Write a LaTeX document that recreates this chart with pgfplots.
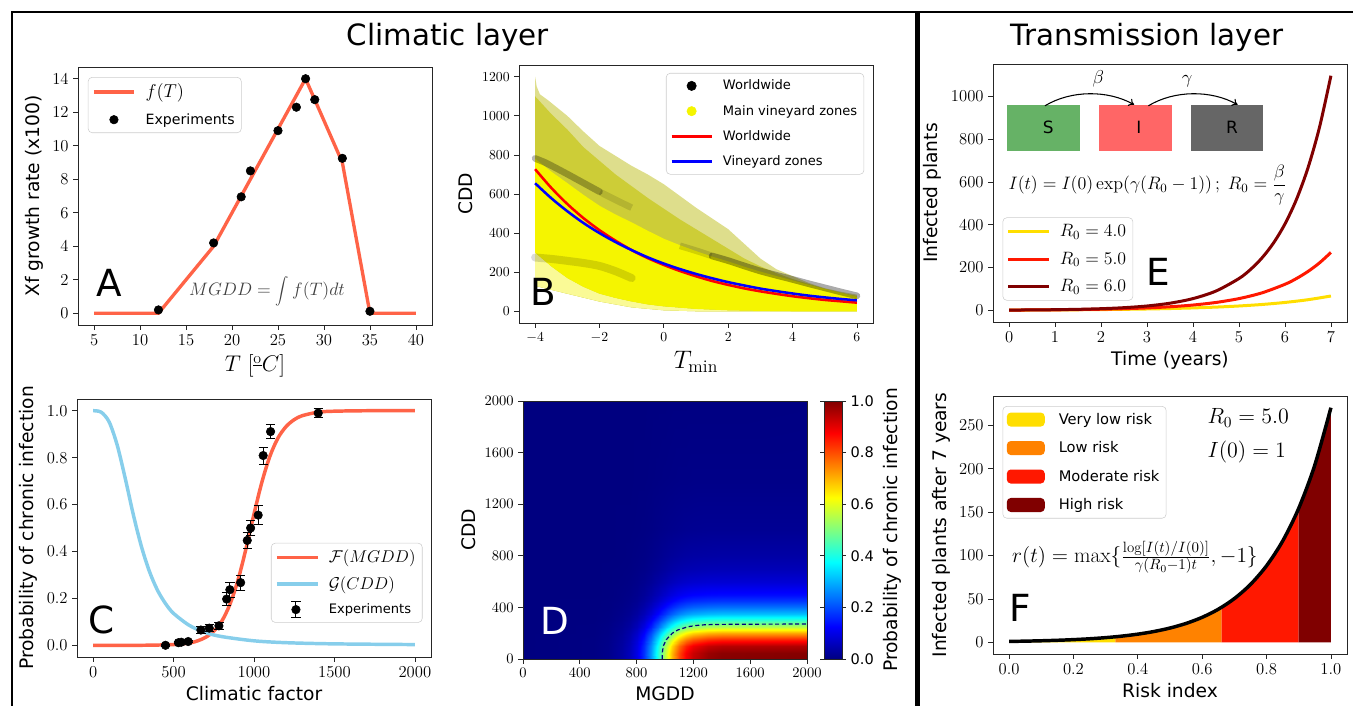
\RequirePackage{fix-cm}
\documentclass[border=0pt]{standalone}
\usepackage{fontspec}
\setsansfont{DejaVu Sans}
\usepackage{pgfplots}
\pgfplotsset{compat=1.18}
\usetikzlibrary{arrows.meta}

\definecolor{tomatoc}{RGB}{255,99,71}
\definecolor{skyc}{RGB}{135,206,235}
\definecolor{goldc}{RGB}{255,222,0}
\definecolor{orangec}{RGB}{255,130,0}
\definecolor{redc}{RGB}{255,24,0}
\definecolor{maroonc}{RGB}{128,0,0}
\definecolor{boxS}{RGB}{102,178,102}
\definecolor{boxI}{RGB}{255,102,102}
\definecolor{boxR}{RGB}{102,102,102}
\definecolor{olivelt}{RGB}{222,222,140}
\definecolor{olivedk}{RGB}{205,205,55}
\definecolor{yel}{RGB}{245,245,0}
\definecolor{paleyel}{RGB}{250,250,150}

\newcommand{\fs}[1]{\fontsize{#1}{#1}\selectfont}

\pgfplotsset{
  panel/.style={
    scale only axis, width=265.5pt, height=193.5pt,
    axis line style={black!85, line width=0.7pt},
    every tick/.style={black!85, line width=0.6pt},
    tick align=outside, major tick length=3.5pt,
    xtick pos=bottom, ytick pos=left,
    tick label style={font=\fs{12.5}, /pgf/number format/1000 sep={}},
    label style={font=\sffamily\fs{14}},
    legend style={draw=black!20, rounded corners=3pt, fill=white,
      inner xsep=3pt, inner ysep=3pt, cells={anchor=west}},
    legend image code/.code={\draw[mark repeat=2,mark phase=2,##1] plot coordinates {(0cm,0cm) (0.53cm,0cm) (1.06cm,0cm)}; \path (1.25cm,0cm);},
  },
}

\begin{document}
\begin{tikzpicture}[x=0.75pt, y=-0.75pt]
\useasboundingbox (0,0) rectangle (1353,706);
\draw[line width=2.2pt] (12,706) -- (12,12) -- (916,12) -- (916,706);
\draw[line width=1.8pt] (918.5,706) -- (918.5,12) -- (1353,12);
\node[font=\sffamily\fs{22}] at (448,37) {Climatic layer};
\node[font=\sffamily\fs{22}] at (1147,37) {Transmission layer};

% ---------------- A
\begin{axis}[panel, at={(58.5pt,-243.75pt)}, anchor=south west,
  xmin=3.25, xmax=41.75, ymin=-0.7, ymax=14.7,
  xtick={5,10,...,40}, ytick={0,2,...,14},
  xlabel={$T\ [^{\underline{\mathrm{o}}}C]$}, xlabel style={font=\fs{17}},
  ylabel={Xf growth rate (x100)},
  legend style={at={(0.028,0.961)}, anchor=north west, font=\sffamily\fs{10.6}, row sep=6pt}]
\addplot[tomatoc, line width=2.5pt] coordinates {(5,0) (12,0) (18,4) (28,14) (32,9) (35,0) (40,0)};
\addplot[only marks, mark=*, mark size=3.2pt, black] coordinates {(12,0.2) (18,4.2) (21,6.95) (22,8.5) (25,10.9) (27,12.3) (28,14) (29,12.75) (32,9.25) (35,0.12)};
\legend{{\fs{14}$f(T)$}, Experiments}
\node[font=\sffamily\fs{28}] at (axis cs:6.7,1.8) {A};
\node[font=\fs{13.5}, text=black!75] at (axis cs:23.8,1.3) {$MGDD=\displaystyle\int f(T)dt$};
\end{axis}

% ---------------- B
\begin{axis}[panel, at={(389.25pt,-242.25pt)}, anchor=south west,
  xmin=-4.5, xmax=6.5, ymin=-60, ymax=1260,
  xtick={-4,-2,0,2,4,6}, ytick={0,200,...,1200},
  tick label style={font=\fs{10.3}},
  xlabel={$T_{\min}$}, xlabel style={font=\fs{19}},
  ylabel={CDD},
  legend style={at={(0.975,0.969)}, anchor=north east, font=\sffamily\fs{9.8}, row sep=6pt}]
% sparse outer fringe of the point cloud
\addplot[draw=none, fill=olivelt, forget plot] coordinates {(-4,1200) (-3.95,1150) (-3.85,1110) (-3.6,1080) (-3.3,1040) (-3,1000) (-2.5,920) (-2,846) (-1.5,795) (-1,744) (-0.5,700) (0,650) (0.5,590) (1,530) (1.5,475) (2,420) (2.5,345) (3,270) (3.5,215) (4,180) (4.5,145) (5,118) (5.5,100) (6,85) (6,0) (1,0) (0,5) (-1,20) (-2,50) (-3,90) (-3.5,110) (-4,130)} -- cycle;
\addplot[draw=none, fill=olivedk, forget plot] coordinates {(-4,1100) (-3.5,1010) (-3,930) (-2.5,840) (-2,770) (-1.5,700) (-1,640) (-0.5,580) (0,525) (0.5,470) (1,420) (1.5,370) (2,320) (2.5,270) (3,230) (3.5,195) (4,165) (4.5,140) (5,115) (5.5,95) (6,78) (6,0) (1,0) (0,5) (-1,20) (-2,50) (-3,90) (-3.5,110) (-4,130)} -- cycle;
\addplot[draw=none, fill=paleyel, forget plot] coordinates {(-4,300) (-3.5,230) (-3,170) (-2.5,125) (-2,90) (-1.5,68) (-1,50) (-0.5,35) (0,25) (1,12) (2,5) (3,2) (4,0) (1,0) (0,5) (-1,20) (-2,50) (-3,90) (-3.5,110) (-4,130)} -- cycle;
% dense core of the point cloud
\addplot[draw=none, fill=yel, forget plot] coordinates {(-4,780) (-3.5,715) (-3,656) (-2.5,596) (-2,540) (-1.5,495) (-1,455) (-0.5,412) (0,371) (0.5,338) (1,308) (1.5,280) (2,255) (2.5,228) (3,203) (3.5,180) (4,158) (4.5,136) (5,115) (5.5,95) (6,75) (6,0) (4,0) (3,2) (2,5) (1,12) (0,25) (-0.5,35) (-1,50) (-1.5,68) (-2,90) (-2.5,125) (-3,170) (-3.5,230) (-4,300)} -- cycle;
% darker streaks of black points
\addplot[black, opacity=0.28, line width=5pt, line cap=round, smooth, forget plot] coordinates {(-4,782) (-3.7,762) (-3.4,737) (-3,702) (-2.5,657) (-2,612)};
\addplot[black, opacity=0.12, line width=5pt, line cap=butt, smooth, forget plot] coordinates {(-1.98,610) (-1.5,570) (-1,530)};
\addplot[black, opacity=0.14, line width=6pt, line cap=round, smooth, forget plot] coordinates {(-4,275) (-3.5,268) (-3,258) (-2.5,247) (-2,232) (-1.5,205) (-1,170)};
\addplot[black, opacity=0.14, line width=5pt, line cap=butt, smooth, forget plot] coordinates {(0.5,335) (1,310) (1.48,284)};
\addplot[black, opacity=0.33, line width=5pt, line cap=round, smooth, forget plot] coordinates {(1.5,283) (2,259) (2.5,232) (3,206) (3.5,184) (4,163) (4.5,141) (5,120) (5.5,99) (6,79)};
\addlegendimage{only marks, mark=*, mark size=3.5pt, black}
\addlegendimage{only marks, mark=*, mark size=3.5pt, yel}
\addplot[red, line width=1.9pt, smooth] coordinates {(-4,727) (-3.5,632) (-3,549) (-2.5,477) (-2,415) (-1.5,361) (-1,313) (-0.5,272) (0,237) (0.5,206) (1,179) (1.5,155) (2,135) (2.5,117) (3,102) (3.5,89) (4,77) (4.5,67) (5,58) (5.5,51) (6,44)};
\addplot[blue, line width=1.9pt, smooth] coordinates {(-4,655) (-3.5,579) (-3,512) (-2.5,452) (-2,400) (-1.5,354) (-1,313) (-0.5,276) (0,244) (0.5,216) (1,191) (1.5,169) (2,149) (2.5,132) (3,116) (3.5,103) (4,91) (4.5,80) (5,71) (5.5,63) (6,56)};
\legend{Worldwide, Main vineyard zones, Worldwide, Vineyard zones}
\node[font=\sffamily\fs{28}] at (axis cs:-3.74,97) {B};
\end{axis}

% ---------------- C
\begin{axis}[panel, at={(57.75pt,-492.75pt)}, anchor=south west,
  xmin=-100, xmax=2100, ymin=-0.05, ymax=1.05,
  xtick={0,500,1000,1500,2000}, ytick={0,0.2,0.4,0.6,0.8,1.0},
  yticklabel style={/pgf/number format/.cd, fixed, fixed zerofill, precision=1},
  xlabel={Climatic factor}, ylabel={Probability of chronic infection},
  legend style={at={(0.976,0.133)}, anchor=south east, font=\sffamily\fs{9.8}, row sep=5pt}]
\addplot[tomatoc, line width=2.6pt, smooth] coordinates {(0,0) (300,0) (500,0.003) (600,0.010) (650,0.019) (700,0.034) (750,0.060) (800,0.103) (850,0.174) (900,0.277) (950,0.411) (1000,0.560) (1050,0.698) (1100,0.808) (1150,0.885) (1200,0.933) (1250,0.962) (1300,0.979) (1400,0.994) (1500,0.998) (1700,1) (2000,1)};
\addplot[skyc, line width=2.6pt, smooth] coordinates {(0,1) (50,0.994) (100,0.952) (150,0.853) (200,0.711) (250,0.557) (300,0.422) (350,0.315) (400,0.235) (450,0.178) (500,0.136) (600,0.084) (700,0.054) (800,0.037) (1000,0.019) (1200,0.011) (1500,0.006) (2000,0.003)};
\addplot[only marks, mark=*, mark size=3.2pt, black,
  error bars/.cd, y dir=both, y explicit, error mark options={black, line width=0.7pt, mark size=3.5pt, rotate=90},
  error bar style={line width=0.7pt},
  /pgfplots/legend image code/.code={
    \draw[black, line width=0.7pt] (0.5cm,-0.22cm) -- (0.5cm,0.22cm) (0.38cm,-0.22cm) -- (0.62cm,-0.22cm) (0.38cm,0.22cm) -- (0.62cm,0.22cm);
    \fill[black] (0.5cm,0cm) circle (3.2pt); \path (1.2cm,0cm);}]
  coordinates {(450,0.0) +- (0,0.003) (530,0.011) +- (0,0.005) (548,0.013) +- (0,0.005) (591,0.016) +- (0,0.005)
   (670,0.065) +- (0,0.016) (722,0.073) +- (0,0.016) (782,0.083) +- (0,0.016) (830,0.197) +- (0,0.029)
   (850,0.237) +- (0,0.032) (917,0.267) +- (0,0.032) (958,0.447) +- (0,0.036) (979,0.50) +- (0,0.032)
   (1026,0.555) +- (0,0.04) (1057,0.809) +- (0,0.036) (1103,0.911) +- (0,0.029) (1399,0.99) +- (0,0.018)};
\legend{{\fs{12.8}$\mathcal{F}(MGDD)$}, {\fs{12.8}$\mathcal{G}(CDD)$}, Experiments}
\node[font=\sffamily\fs{28}] at (axis cs:52,0.109) {C};
\end{axis}

% ---------------- D
\begin{axis}[panel, width=213pt, at={(392.25pt,-494.25pt)}, anchor=south west,
  xmin=0, xmax=2000, ymin=0, ymax=2000,
  xtick={0,400,...,2000}, ytick={0,400,...,2000},
  tick label style={font=\fs{10.9}},
  xlabel={MGDD}, ylabel={CDD}, axis on top,
  colormap/jet, point meta min=0, point meta max=1,
  colorbar, colorbar shift/.style={xshift=12.75pt},
  colorbar style={at={(parent axis.north east)}, anchor=north west,
    width=13.5pt, ytick={0,0.2,0.4,0.6,0.8,1},
    yticklabels={0.0,0.2,0.4,0.6,0.8,1.0},
    yticklabel style={font=\sffamily\fs{10.9}},
    ylabel={Probability of chronic infection}, ylabel style={font=\sffamily\fs{14}},
    tick align=outside, major tick length=3pt, axis line style={black!85}}]
\addplot[surf, shader=interp, mesh/cols=17, point meta=explicit]
 table[row sep=\\, meta index=2] {
 x y z \\
 0 0 0 \\ 500 0 0.003 \\ 600 0 0.010 \\ 700 0 0.034 \\ 750 0 0.060 \\ 800 0 0.103 \\ 850 0 0.174 \\ 900 0 0.277 \\ 950 0 0.411 \\ 1000 0 0.560 \\ 1050 0 0.698 \\ 1100 0 0.808 \\ 1150 0 0.885 \\ 1200 0 0.933 \\ 1300 0 0.979 \\ 1400 0 0.994 \\ 2000 0 1 \\
 0 50 0 \\ 500 50 0.003 \\ 600 50 0.010 \\ 700 50 0.034 \\ 750 50 0.060 \\ 800 50 0.102 \\ 850 50 0.173 \\ 900 50 0.275 \\ 950 50 0.409 \\ 1000 50 0.557 \\ 1050 50 0.694 \\ 1100 50 0.803 \\ 1150 50 0.880 \\ 1200 50 0.927 \\ 1300 50 0.973 \\ 1400 50 0.988 \\ 2000 50 0.994 \\
 0 100 0 \\ 500 100 0.003 \\ 600 100 0.010 \\ 700 100 0.032 \\ 750 100 0.057 \\ 800 100 0.098 \\ 850 100 0.166 \\ 900 100 0.264 \\ 950 100 0.391 \\ 1000 100 0.533 \\ 1050 100 0.664 \\ 1100 100 0.769 \\ 1150 100 0.843 \\ 1200 100 0.888 \\ 1300 100 0.932 \\ 1400 100 0.946 \\ 2000 100 0.952 \\
 0 150 0 \\ 500 150 0.003 \\ 600 150 0.009 \\ 700 150 0.029 \\ 750 150 0.051 \\ 800 150 0.088 \\ 850 150 0.148 \\ 900 150 0.236 \\ 950 150 0.351 \\ 1000 150 0.478 \\ 1050 150 0.595 \\ 1100 150 0.689 \\ 1150 150 0.755 \\ 1200 150 0.796 \\ 1300 150 0.835 \\ 1400 150 0.848 \\ 2000 150 0.853 \\
 0 200 0 \\ 500 200 0.002 \\ 600 200 0.007 \\ 700 200 0.024 \\ 750 200 0.043 \\ 800 200 0.073 \\ 850 200 0.124 \\ 900 200 0.197 \\ 950 200 0.292 \\ 1000 200 0.398 \\ 1050 200 0.496 \\ 1100 200 0.574 \\ 1150 200 0.629 \\ 1200 200 0.663 \\ 1300 200 0.696 \\ 1400 200 0.707 \\ 2000 200 0.711 \\
 0 250 0 \\ 500 250 0.002 \\ 600 250 0.006 \\ 700 250 0.019 \\ 750 250 0.033 \\ 800 250 0.057 \\ 850 250 0.097 \\ 900 250 0.154 \\ 950 250 0.229 \\ 1000 250 0.312 \\ 1050 250 0.389 \\ 1100 250 0.450 \\ 1150 250 0.493 \\ 1200 250 0.520 \\ 1300 250 0.545 \\ 1400 250 0.554 \\ 2000 250 0.557 \\
 0 300 0 \\ 500 300 0.001 \\ 600 300 0.004 \\ 700 300 0.014 \\ 750 300 0.025 \\ 800 300 0.043 \\ 850 300 0.073 \\ 900 300 0.117 \\ 950 300 0.173 \\ 1000 300 0.236 \\ 1050 300 0.295 \\ 1100 300 0.341 \\ 1150 300 0.373 \\ 1200 300 0.394 \\ 1300 300 0.413 \\ 1400 300 0.419 \\ 2000 300 0.422 \\
 0 350 0 \\ 500 350 0.001 \\ 600 350 0.003 \\ 700 350 0.011 \\ 750 350 0.019 \\ 800 350 0.032 \\ 850 350 0.055 \\ 900 350 0.087 \\ 950 350 0.129 \\ 1000 350 0.176 \\ 1050 350 0.220 \\ 1100 350 0.255 \\ 1150 350 0.279 \\ 1200 350 0.294 \\ 1300 350 0.308 \\ 1400 350 0.313 \\ 2000 350 0.315 \\
 0 400 0 \\ 500 400 0.001 \\ 600 400 0.002 \\ 700 400 0.008 \\ 750 400 0.014 \\ 800 400 0.024 \\ 850 400 0.041 \\ 900 400 0.065 \\ 950 400 0.097 \\ 1000 400 0.132 \\ 1050 400 0.164 \\ 1100 400 0.190 \\ 1150 400 0.208 \\ 1200 400 0.219 \\ 1300 400 0.230 \\ 1400 400 0.234 \\ 2000 400 0.235 \\
 0 450 0 \\ 500 450 0.001 \\ 600 450 0.002 \\ 700 450 0.006 \\ 750 450 0.011 \\ 800 450 0.018 \\ 850 450 0.031 \\ 900 450 0.049 \\ 950 450 0.073 \\ 1000 450 0.100 \\ 1050 450 0.124 \\ 1100 450 0.144 \\ 1150 450 0.158 \\ 1200 450 0.166 \\ 1300 450 0.174 \\ 1400 450 0.177 \\ 2000 450 0.178 \\
 0 500 0 \\ 500 500 0 \\ 600 500 0.001 \\ 700 500 0.005 \\ 750 500 0.008 \\ 800 500 0.014 \\ 850 500 0.024 \\ 900 500 0.038 \\ 950 500 0.056 \\ 1000 500 0.076 \\ 1050 500 0.095 \\ 1100 500 0.110 \\ 1150 500 0.120 \\ 1200 500 0.127 \\ 1300 500 0.133 \\ 1400 500 0.135 \\ 2000 500 0.136 \\
 0 600 0 \\ 500 600 0 \\ 600 600 0.001 \\ 700 600 0.003 \\ 750 600 0.005 \\ 800 600 0.009 \\ 850 600 0.015 \\ 900 600 0.023 \\ 950 600 0.035 \\ 1000 600 0.047 \\ 1050 600 0.059 \\ 1100 600 0.068 \\ 1150 600 0.074 \\ 1200 600 0.078 \\ 1300 600 0.082 \\ 1400 600 0.083 \\ 2000 600 0.084 \\
 0 700 0 \\ 500 700 0 \\ 600 700 0.001 \\ 700 700 0.002 \\ 750 700 0.003 \\ 800 700 0.006 \\ 850 700 0.009 \\ 900 700 0.015 \\ 950 700 0.022 \\ 1000 700 0.030 \\ 1050 700 0.038 \\ 1100 700 0.044 \\ 1150 700 0.048 \\ 1200 700 0.050 \\ 1300 700 0.053 \\ 1400 700 0.054 \\ 2000 700 0.054 \\
 0 800 0 \\ 500 800 0 \\ 600 800 0 \\ 700 800 0.001 \\ 750 800 0.002 \\ 800 800 0.004 \\ 850 800 0.006 \\ 900 800 0.010 \\ 950 800 0.015 \\ 1000 800 0.021 \\ 1050 800 0.026 \\ 1100 800 0.030 \\ 1150 800 0.033 \\ 1200 800 0.035 \\ 1300 800 0.036 \\ 1400 800 0.037 \\ 2000 800 0.037 \\
 0 1000 0 \\ 500 1000 0 \\ 600 1000 0 \\ 700 1000 0.001 \\ 750 1000 0.001 \\ 800 1000 0.002 \\ 850 1000 0.003 \\ 900 1000 0.005 \\ 950 1000 0.008 \\ 1000 1000 0.011 \\ 1050 1000 0.013 \\ 1100 1000 0.015 \\ 1150 1000 0.017 \\ 1200 1000 0.018 \\ 1300 1000 0.019 \\ 1400 1000 0.019 \\ 2000 1000 0.019 \\
 0 1400 0 \\ 500 1400 0 \\ 600 1400 0 \\ 700 1400 0 \\ 750 1400 0 \\ 800 1400 0.001 \\ 850 1400 0.001 \\ 900 1400 0.002 \\ 950 1400 0.003 \\ 1000 1400 0.004 \\ 1050 1400 0.005 \\ 1100 1400 0.006 \\ 1150 1400 0.006 \\ 1200 1400 0.007 \\ 1300 1400 0.007 \\ 1400 1400 0.007 \\ 2000 1400 0.007 \\
 0 2000 0 \\ 500 2000 0 \\ 600 2000 0 \\ 700 2000 0 \\ 750 2000 0 \\ 800 2000 0 \\ 850 2000 0 \\ 900 2000 0.001 \\ 950 2000 0.001 \\ 1000 2000 0.001 \\ 1050 2000 0.002 \\ 1100 2000 0.002 \\ 1150 2000 0.002 \\ 1200 2000 0.002 \\ 1300 2000 0.002 \\ 1400 2000 0.002 \\ 2000 2000 0.003 \\
 };
\addplot[densely dashed, line width=0.9pt, color=blue!50!black] coordinates {(980,0) (981,50) (988,100) (1009,150) (1052,200) (1090,225) (1161,250) (1220,260) (1276,265) (1354,268) (1600,270) (2000,271)};
\node[font=\sffamily\fs{28}, text=white] at (axis cs:227,295) {D};
\end{axis}

% ---------------- E
\begin{axis}[panel, at={(744.75pt,-241.5pt)}, anchor=south west,
  xmin=-0.35, xmax=7.35, ymin=-54.8, ymax=1151.4,
  xtick={0,1,...,7}, ytick={0,200,...,1000},
  xlabel={Time (years)}, ylabel={Infected plants},
  legend style={at={(0.027,0.083)}, anchor=south west, font=\fs{13.4}, row sep=6pt}]
\addplot[goldc, line width=2.25pt, smooth] coordinates {(0,1) (0.5,1.35) (1,1.82) (1.5,2.46) (2,3.32) (2.5,4.48) (3,6.05) (3.5,8.17) (4,11.02) (4.5,14.88) (5,20.09) (5.5,27.11) (6,36.60) (6.5,49.40) (7,66.69)};
\addplot[redc, line width=2.25pt, smooth] coordinates {(0,1) (0.5,1.49) (1,2.23) (1.5,3.32) (2,4.95) (2.5,7.39) (3,11.02) (3.5,16.44) (4,24.53) (4.5,36.60) (5,54.60) (5.5,81.45) (6,121.5) (6.25,148.4) (6.5,181.3) (6.75,221.4) (7,270.4)};
\addplot[maroonc, line width=2.25pt, smooth] coordinates {(0,1) (0.5,1.65) (1,2.72) (1.5,4.48) (2,7.39) (2.5,12.18) (3,20.09) (3.5,33.12) (4,54.60) (4.5,90.02) (5,148.4) (5.25,190.6) (5.5,244.7) (5.75,314.2) (6,403.4) (6.25,518.0) (6.5,665.1) (6.75,854.1) (7,1096.6)};
\legend{$R_0=4.0$, $R_0=5.0$, $R_0=6.0$}
\fill[boxS] (axis cs:-0.04,745) rectangle (axis cs:1.545,961);
\fill[boxI] (axis cs:1.96,745) rectangle (axis cs:3.54,961);
\fill[boxR] (axis cs:3.95,745) rectangle (axis cs:5.53,961);
\node[font=\sffamily\fs{12.7}] at (axis cs:0.85,853) {S};
\node[font=\sffamily\fs{12.7}] at (axis cs:2.82,853) {I};
\node[font=\sffamily\fs{12.7}] at (axis cs:4.85,853) {R};
\draw[-{To[length=4pt,width=6pt]}, line width=0.8pt] (axis cs:0.78,956) .. controls (axis cs:1.35,1030) and (axis cs:2.15,1030) .. (axis cs:2.72,961);
\draw[-{To[length=4pt,width=6pt]}, line width=0.8pt] (axis cs:3.03,956) .. controls (axis cs:3.6,1030) and (axis cs:4.4,1030) .. (axis cs:4.97,961);
\node[font=\fs{14}] at (axis cs:1.94,1081) {$\beta$};
\node[font=\fs{14}] at (axis cs:3.87,1070) {$\gamma$};
\node[font=\fs{13.5}] at (axis cs:3.01,586) {$I(t)=I(0)\exp(\gamma(R_0-1))\,;\;R_0=\displaystyle\frac{\beta}{\gamma}$};
\node[font=\sffamily\fs{28}] at (axis cs:3.25,180) {E};
\end{axis}

% ---------------- F
\begin{axis}[panel, at={(744.75pt,-490.5pt)}, anchor=south west,
  xmin=-0.05, xmax=1.05, ymin=-13.5, ymax=283.9,
  xtick={0,0.2,0.4,0.6,0.8,1.0}, ytick={0,50,...,250},
  xticklabel style={/pgf/number format/.cd, fixed, fixed zerofill, precision=1},
  xlabel={Risk index}, ylabel={Infected plants after 7 years},
  legend style={at={(0.027,0.961)}, anchor=north west, font=\sffamily\fs{11}, row sep=7.5pt},
  legend image code/.code={\fill[#1] (0cm,-0.185cm) rectangle (1.0cm,0.185cm); \path (1.3cm,0cm);}]
\addplot[fill=goldc, draw=none] coordinates {(0,1) (0.05,1.323) (0.1,1.751) (0.15,2.316) (0.2,3.065) (0.25,4.055) (0.3,5.366) (0.33,6.35)} \closedcycle;
\addplot[fill=orangec, draw=none] coordinates {(0.33,6.35) (0.35,7.099) (0.4,9.393) (0.45,12.43) (0.5,16.44) (0.55,21.76) (0.6,28.79) (0.65,38.09) (0.66,40.3)} \closedcycle;
\addplot[fill=redc, draw=none] coordinates {(0.66,40.3) (0.7,50.4) (0.75,66.69) (0.775,76.7) (0.8,88.23) (0.825,101.5) (0.85,116.7) (0.875,134.3) (0.9,154.5)} \closedcycle;
\addplot[fill=maroonc, draw=none] coordinates {(0.9,154.5) (0.925,177.7) (0.95,204.4) (0.975,235.1) (1,270.4)} \closedcycle;
\addplot[black, line width=2.6pt, smooth, forget plot] coordinates {(0,1) (0.05,1.323) (0.1,1.751) (0.15,2.316) (0.2,3.065) (0.25,4.055) (0.3,5.366) (0.35,7.099) (0.4,9.393) (0.45,12.43) (0.5,16.44) (0.55,21.76) (0.6,28.79) (0.65,38.09) (0.7,50.4) (0.75,66.69) (0.8,88.23) (0.85,116.7) (0.9,154.5) (0.95,204.4) (1,270.4)};
\legend{Very low risk, Low risk, Moderate risk, High risk}
\node[font=\fs{16.5}, anchor=west] at (axis cs:0.602,258.6) {$R_0=5.0$};
\node[font=\fs{16.5}, anchor=west] at (axis cs:0.602,219) {$I(0)=1$};
\node[font=\fs{16}, anchor=west] at (axis cs:-0.005,97.7) {$r(t)=\max\{\frac{\log[I(t)/I(0)]}{\gamma(R_0-1)t},-1\}$};
\node[font=\sffamily\fs{28}] at (axis cs:0.034,40) {F};
\end{axis}
\end{tikzpicture}
\end{document}
